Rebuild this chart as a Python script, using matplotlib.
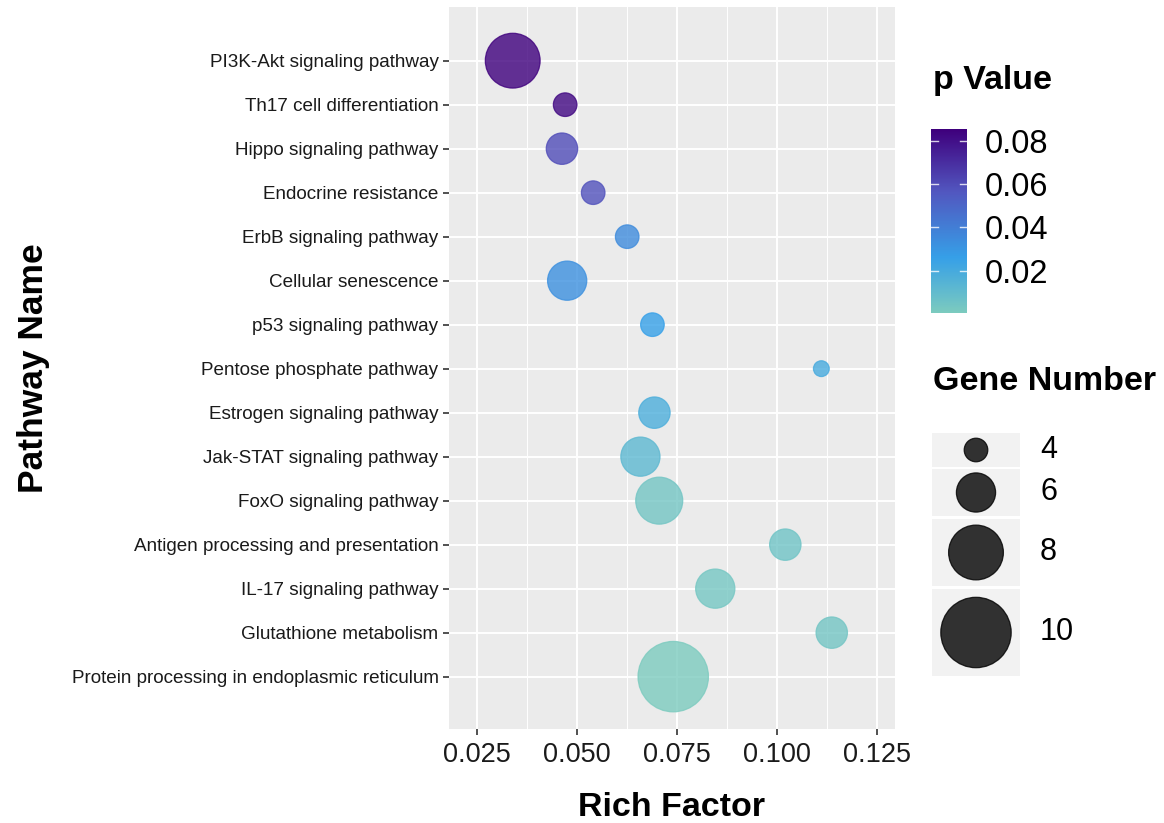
import numpy as np
import matplotlib
matplotlib.use("Agg")
import matplotlib.pyplot as plt
from matplotlib.colors import LinearSegmentedColormap, Normalize
from matplotlib.patches import Rectangle

plt.rcParams['font.family'] = ['Liberation Sans', 'DejaVu Sans']

# ---- data ----
pathways = [
    "PI3K-Akt signaling pathway",
    "Th17 cell differentiation",
    "Hippo signaling pathway",
    "Endocrine resistance",
    "ErbB signaling pathway",
    "Cellular senescence",
    "p53 signaling pathway",
    "Pentose phosphate pathway",
    "Estrogen signaling pathway",
    "Jak-STAT signaling pathway",
    "FoxO signaling pathway",
    "Antigen processing and presentation",
    "IL-17 signaling pathway",
    "Glutathione metabolism",
    "Protein processing in endoplasmic reticulum",
]
rich_factor = [0.0340, 0.0471, 0.0463, 0.0541, 0.0626, 0.0476, 0.0689, 0.1111,
               0.0694, 0.0659, 0.0706, 0.1021, 0.0846, 0.1137, 0.0741]
gene_number = [8, 4, 5, 4, 4, 6, 4, 3, 5, 6, 7, 5, 6, 5, 10]
p_value = [0.0855, 0.0830, 0.0600, 0.0580, 0.0350, 0.0330, 0.0260, 0.0200,
           0.0180, 0.0120, 0.0040, 0.0050, 0.0030, 0.0040, 0.0005]

x_ticks = [0.025, 0.050, 0.075, 0.100, 0.125]
x_tick_labels = ["0.025", "0.050", "0.075", "0.100", "0.125"]
cbar_ticks = [0.02, 0.04, 0.06, 0.08]
size_breaks = [4, 6, 8, 10]

W, H = 1164, 823
DPI = 100
fig = plt.figure(figsize=(W / DPI, H / DPI), dpi=DPI)
fig.patch.set_facecolor("white")


def fx(px):
    return px / W


def fy(px):
    return 1 - px / H


def size_scale(n):
    # radius in pixels grows linearly with gene number
    d_px = 7.8 * np.asarray(n, dtype=float) - 7.6
    d_pt = d_px * 72.0 / DPI
    return d_pt ** 2


cmap = LinearSegmentedColormap.from_list(
    "pv", [(0.0, "#7ccbbf"), (0.30, "#36a0e8"), (0.66, "#5257c0"), (1.0, "#3f007d")])
norm = Normalize(vmin=min(p_value), vmax=max(p_value))

# ---- main panel ----
ax = fig.add_axes([fx(449), fy(729), fx(895) - fx(449), fy(7) - fy(729)])
ax.set_facecolor("#ebebeb")
ypos = np.arange(len(pathways))
ax.set_xlim(0.01808, 0.1295)
ax.set_ylim(len(pathways) - 1 + 1.19, -1.22)

ax.set_xticks(x_ticks)
ax.set_xticklabels(x_tick_labels)
ax.set_xticks([0.0375, 0.0625, 0.0875, 0.1125], minor=True)
ax.set_yticks(ypos)
ax.set_yticklabels(pathways)
ax.grid(True, which="major", color="white", linewidth=1.4)
ax.grid(True, which="minor", axis="x", color="white", linewidth=0.7)
ax.set_axisbelow(True)
for s in ax.spines.values():
    s.set_visible(False)
ax.tick_params(axis="x", which="major", length=4, width=1.2, color="#333333",
               labelsize=19.5, labelcolor="#1a1a1a", pad=5)
ax.tick_params(axis="y", which="major", length=4, width=1.2, color="#333333",
               labelsize=13.6, labelcolor="#1a1a1a", pad=3.5)
ax.tick_params(which="minor", length=0)

colors = cmap(norm(np.array(p_value)))
ax.scatter(rich_factor, ypos, s=size_scale(gene_number), c=colors,
           alpha=0.8, edgecolors=colors, linewidths=0.9, zorder=3)

fig.text(fx(672), fy(807), "Rich Factor", ha="center", va="center",
         fontsize=24.5, fontweight="bold", color="black")
fig.text(fx(34), fy(368), "Pathway Name", ha="center", va="center",
         rotation=90, fontsize=25.5, fontweight="bold", color="black")

# ---- colour legend ----
fig.text(fx(933), fy(80), "p Value", ha="left", va="center",
         fontsize=24.5, fontweight="bold", color="black")
cax = fig.add_axes([fx(931), fy(313), fx(967) - fx(931), fy(129) - fy(313)])
grad = np.linspace(norm.vmin, norm.vmax, 300).reshape(-1, 1)
cax.imshow(grad, aspect="auto", cmap=cmap, norm=norm, origin="lower",
           extent=[0, 1, norm.vmin, norm.vmax])
cax.set_xlim(0, 1)
cax.set_ylim(norm.vmin, norm.vmax)
cax.set_xticks([])
cax.yaxis.tick_right()
cax.set_yticks(cbar_ticks)
cax.set_yticklabels(["%.2f" % t for t in cbar_ticks])
cax.tick_params(axis="y", length=0, pad=13, labelsize=23.5, labelcolor="black")
for t in cbar_ticks:
    cax.plot([0, 0.2], [t, t], color="white", lw=1.0, alpha=0.8)
    cax.plot([0.8, 1.0], [t, t], color="white", lw=1.0, alpha=0.8)
for s in cax.spines.values():
    s.set_visible(False)

# ---- size legend ----
fig.text(fx(933), fy(382), "Gene Number", ha="left", va="center",
         fontsize=24.5, fontweight="bold", color="black")
lax = fig.add_axes([fx(925), fy(700), fx(1160) - fx(925), fy(420) - fy(700)])
lax.set_xlim(925, 1160)
lax.set_ylim(700, 420)
lax.axis("off")
key_boxes = [(433, 467), (469, 516), (519, 586), (589, 676)]
centers = []
for (y0, y1) in key_boxes:
    lax.add_patch(Rectangle((931.7, y0), 1020 - 931.7, y1 - y0,
                            facecolor="#f2f2f2", edgecolor="none"))
    centers.append((y0 + y1) / 2)
lax.scatter([976] * len(size_breaks), centers, s=size_scale(size_breaks),
            c="black", alpha=0.8, edgecolors="black", linewidths=0.9, zorder=3)
for yc, b in zip(centers, size_breaks):
    lax.text(1040, yc, str(b), ha="left", va="center", fontsize=22, color="black")

fig.savefig("out.png", dpi=DPI, facecolor="white")
